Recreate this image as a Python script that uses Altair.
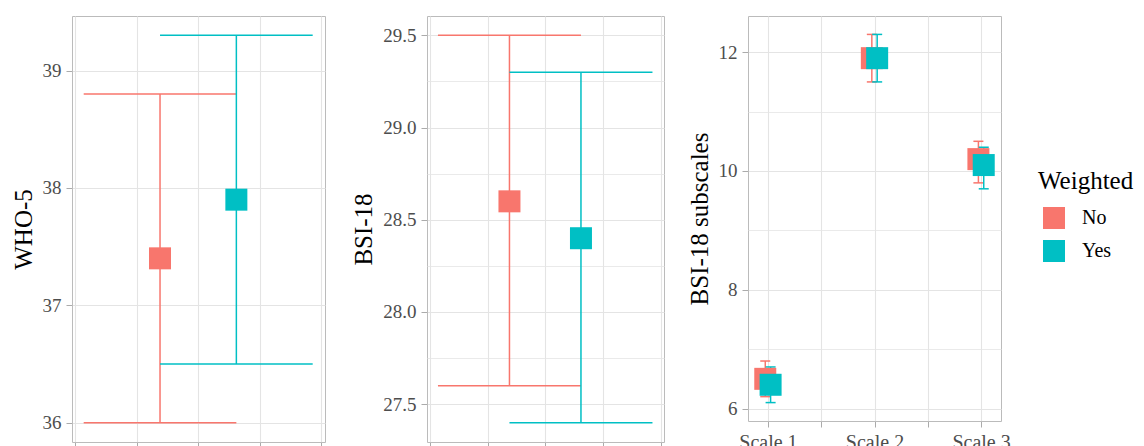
import altair as alt
import pandas as pd

# ---- data ----
groups = ["No", "Yes"]
who5_mean = [37.4, 37.9]
who5_lo = [36.0, 36.5]
who5_hi = [38.8, 39.3]

bsi_mean = [28.6, 28.4]
bsi_lo = [27.6, 27.4]
bsi_hi = [29.5, 29.3]

scale_names = ["Scale 1", "Scale 2", "Scale 3"]
scale_pos = [1, 2, 3]
sub_no_mean = [6.5, 11.9, 10.2]
sub_no_lo = [6.2, 11.5, 9.8]
sub_no_hi = [6.8, 12.3, 10.5]
sub_yes_mean = [6.4, 11.9, 10.1]
sub_yes_lo = [6.1, 11.5, 9.7]
sub_yes_hi = [6.7, 12.3, 10.4]

colors = ["#F8766D", "#00BFC4"]

# ---- layout / style constants ----
DODGE_BIG = {"No": -0.62, "Yes": 0.62}
CAP_BIG = 1.24
DODGE_SMALL = {"No": -0.025, "Yes": 0.025}
CAP_SMALL = 0.047
FONT = "Liberation Serif"
SQ = 484

color_scale = alt.Scale(domain=groups, range=colors)
legend = alt.Legend(title="Weighted", orient="none", legendX=290, legendY=153,
                    symbolType="square", symbolSize=SQ, symbolStrokeWidth=0,
                    symbolOffset=5,
                    titleFont=FONT, titleFontSize=25, titleFontWeight="normal",
                    titleColor="black", labelFont=FONT, labelFontSize=20,
                    labelColor="black", labelOffset=17, rowPadding=11,
                    titlePadding=13)


def big_df(mean, lo, hi):
    rows = []
    for g, m, l, h in zip(groups, mean, lo, hi):
        x = DODGE_BIG[g]
        rows.append({"g": g, "x": x, "xl": x - CAP_BIG, "xr": x + CAP_BIG,
                     "m": m, "lo": l, "hi": h})
    return pd.DataFrame(rows)


def small_df():
    rows = []
    for g, mean, lo, hi in [("No", sub_no_mean, sub_no_lo, sub_no_hi),
                            ("Yes", sub_yes_mean, sub_yes_lo, sub_yes_hi)]:
        for p, m, l, h in zip(scale_pos, mean, lo, hi):
            x = p + DODGE_SMALL[g]
            rows.append({"g": g, "x": x, "xl": x - CAP_SMALL, "xr": x + CAP_SMALL,
                         "m": m, "lo": l, "hi": h})
    return pd.DataFrame(rows)


grid_common = dict(gridColor="#E4E4E4", tickColor="#ABABAB", tickSize=6,
                   labelPadding=5, domain=False)


def panel(df, ytitle, ydom, yvals, yminor_test, yfmt, xdom, xvals, xminor_test,
          xlabel_expr, w, h, show_xlabels, pt_legend):
    yaxis = alt.Axis(title=ytitle, values=yvals, format=yfmt,
                     labelExpr=f"({yminor_test}) ? '' : datum.label",
                     tickOpacity={"condition": {"test": yminor_test, "value": 0}, "value": 1},
                     gridWidth={"condition": {"test": yminor_test, "value": 0.8}, "value": 1.1},
                     titlePadding=6, **grid_common)
    xaxis = alt.Axis(title=None, values=xvals, labels=show_xlabels,
                     labelExpr=xlabel_expr, labelFontSize=20,
                     tickOpacity={"condition": {"test": xminor_test, "value": 0}, "value": 1},
                     gridWidth={"condition": {"test": xminor_test, "value": 0.8}, "value": 1.1},
                     **grid_common)
    xs = alt.Scale(domain=xdom, nice=False, zero=False)
    ys = alt.Scale(domain=ydom, nice=False, zero=False)
    base = alt.Chart(df)
    layers = []
    first = True
    for g, c in zip(groups, colors):
        sub = base.transform_filter(alt.datum.g == g)
        if first:
            vx = alt.X("x:Q", scale=xs, axis=xaxis)
            vy = alt.Y("lo:Q", scale=ys, axis=yaxis)
            first = False
        else:
            vx = alt.X("x:Q", scale=xs)
            vy = alt.Y("lo:Q", scale=ys)
        layers.append(sub.mark_rule(strokeWidth=1.5, color=c).encode(
            x=vx, y=vy, y2="hi:Q"))
        layers.append(sub.mark_rule(strokeWidth=1.5, color=c).encode(
            x=alt.X("xl:Q", scale=xs), x2="xr:Q", y=alt.Y("lo:Q", scale=ys)))
        layers.append(sub.mark_rule(strokeWidth=1.5, color=c).encode(
            x=alt.X("xl:Q", scale=xs), x2="xr:Q", y=alt.Y("hi:Q", scale=ys)))
    pts = base.mark_square(size=SQ, opacity=1, strokeWidth=0).encode(
        x=alt.X("x:Q", scale=xs),
        y=alt.Y("m:Q", scale=ys),
        color=alt.Color("g:N", scale=color_scale, legend=pt_legend))
    layers.append(pts)
    return alt.layer(*layers).properties(width=w, height=h)


xdom_big = [-2.05, 2.06]
xvals_big = [-2, -1.5, -1, -0.5, 0, 0.5, 1, 1.5, 2]

p1 = panel(big_df(who5_mean, who5_lo, who5_hi), "WHO-5", [35.835, 39.465],
           [36, 36.5, 37, 37.5, 38, 38.5, 39], "datum.value % 1 !== 0", "d",
           xdom_big, xvals_big, "datum.value % 1 !== 0", "datum.label", 253, 426, False, None)

p2 = panel(big_df(bsi_mean, bsi_lo, bsi_hi), "BSI-18", [27.295, 29.605],
           [27.5, 27.75, 28, 28.25, 28.5, 28.75, 29, 29.25, 29.5],
           "(datum.value * 2) % 1 !== 0", ".1f",
           xdom_big, xvals_big, "datum.value % 1 !== 0", "datum.label", 237, 426, False, None)

label_expr3 = ("datum.value == 1 ? '" + scale_names[0] + "' : datum.value == 2 ? '"
               + scale_names[1] + "' : datum.value == 3 ? '" + scale_names[2] + "' : ''")
p3 = panel(small_df(), "BSI-18 subscales", [5.79, 12.61],
           [6, 7, 8, 9, 10, 11, 12], "datum.value % 2 !== 0", "d",
           [0.813, 3.187], [1, 1.25, 1.5, 1.75, 2, 2.25, 2.5, 2.75, 3],
           "(datum.value * 2) % 1 !== 0", label_expr3, 253, 405, True, legend)

left = alt.hconcat(p1, p2, spacing=25)
chart = alt.hconcat(left, p3, spacing=21).resolve_scale(color="independent").properties(
    padding={"left": 2, "top": 7, "right": 0, "bottom": 0}
).configure_view(stroke="#BBBBBB", strokeWidth=1).configure_axis(
    labelFont=FONT, labelFontSize=19, labelColor="#4D4D4D",
    titleFont=FONT, titleFontSize=25, titleFontWeight="normal", titleColor="black"
)

chart.save("out.html", embed_options={"renderer": "svg", "actions": False})
